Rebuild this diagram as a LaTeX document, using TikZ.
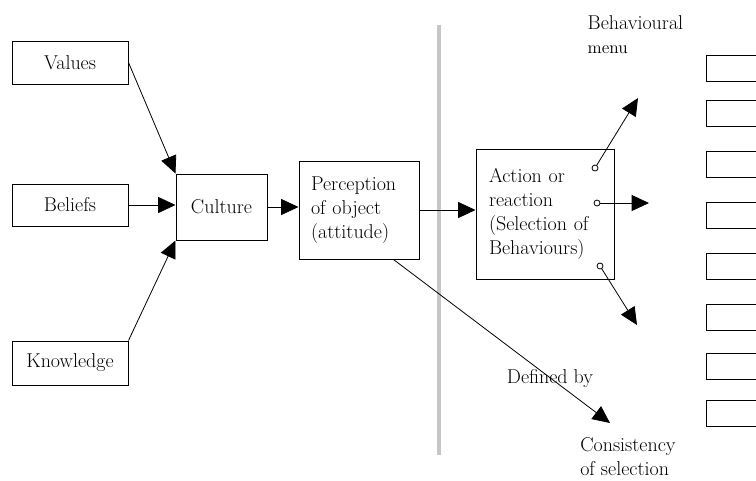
\documentclass[tikz,border=0pt]{standalone}
\usepackage{tikz}
\usetikzlibrary{arrows.meta,calc}

\begin{document}
\begin{tikzpicture}[x=0.75pt,y=-0.75pt,
    every node/.style = {font=\fontsize{15}{18}\selectfont},
    box/.style = {draw, line width=0.75pt, inner sep=0pt},
    menubox/.style = {draw, line width=0.75pt, minimum width=48pt, minimum height=19.5pt, inner sep=0pt},
    port/.style = {draw, circle, inner sep=0pt, minimum size=4.5pt, line width=0.6pt},
    arr/.style = {-{Triangle[length=13pt,width=12pt]}, line width=0.6pt},
    divider/.style = {line width=2.5pt, gray!45}]
    \useasboundingbox (0,0) rectangle (756,480);

    % sources
    \node[box, minimum width=87pt, minimum height=32.25pt] (values) at (70,62.5) {Values};
    \node[box, minimum width=87pt, minimum height=31.5pt] (beliefs) at (70,205) {Beliefs};
    \node[box, minimum width=87pt, minimum height=33pt] (knowledge) at (70,363) {Knowledge};
    \node[box, minimum width=68.25pt, minimum height=49.5pt] (culture) at (221.5,207) {Culture};
    \node[box, text width=72pt, inner xsep=9pt, minimum height=73.5pt, align=left] (perception) at (359,210)
        {Perception\\of object\\(attitude)};
    \node[box, text width=84pt, inner xsep=9.75pt, minimum height=97.5pt, align=left] (action) at (545,214)
        {Action or\\reaction\\(Selection of\\Behaviours)};

    \draw[divider] (439,25) -- (439,455);

    % behavioural menu
    \node[anchor=west] (menutitle) at (583,23) {Behavioural};
    \node[anchor=west, font=\fontsize{13}{15}\selectfont] (menulabel) at (583,50) {menu};
    \foreach \y [count=\i] in {55,100,151,202,253,304,353,400}
        \node[menubox, anchor=north west] (m\i) at (706,\y) {};

    \node (defined) at (550,378) {Defined by};
    \node[anchor=north west, align=left, inner sep=0pt] (consist) at (580,437) {Consistency\\of selection};

    \node[port] (p1) at (595,168) {};
    \node[port] (p2) at (597,203) {};
    \node[port] (p3) at (600,266) {};
    \coordinate (upout) at (638,98);
    \coordinate (midout) at (649,203);
    \coordinate (downout) at (637,325);
    \coordinate (selend) at (610,423);

    % connectors
    \draw[arr] (values.east) -- (culture.north west);
    \draw[arr] (beliefs) -- (beliefs -| culture.west);
    \draw[arr] (knowledge.north east) -- (culture.south west);
    \draw[arr] (culture) -- (culture -| perception.west);
    \draw[arr] (perception.east) -- (perception.east -| action.west);
    \draw[arr] ($(perception.south east)+(-26,0)$) -- (selend);
    \draw[arr] (p1) -- (upout);
    \draw[arr] (p2) -- (midout);
    \draw[arr] (p3) -- (downout);
\end{tikzpicture}
\end{document}
